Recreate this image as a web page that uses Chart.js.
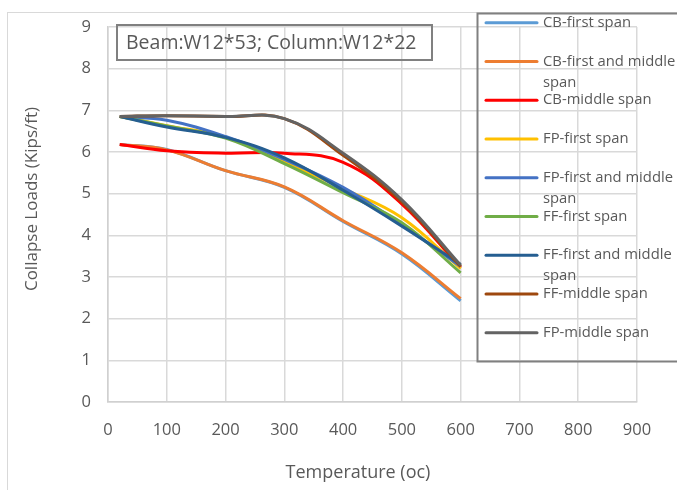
<!DOCTYPE html>
<html lang="en">
<head>
    <meta charset="UTF-8">
    <title>Collapse Loads vs Temperature</title>
    <script src="https://cdn.jsdelivr.net/npm/chart.js"></script>
    <style>
        * { margin: 0; padding: 0; box-sizing: border-box; }
        body { background: #fff; width: 677px; height: 490px; overflow: hidden; }
        #wrap { position: relative; width: 677px; height: 490px; }
    </style>
</head>
<body>
    <div id="wrap"><canvas id="loadChart" width="677" height="490"></canvas></div>
    <script>
        // temperatures (oC) and collapse loads (kips/ft)
        const temps = [20, 100, 200, 300, 400, 500, 600];
        const cbFirst        = [6.18, 6.06, 5.55, 5.15, 4.33, 3.55, 2.43];
        const cbFirstMiddle  = [6.18, 6.05, 5.55, 5.16, 4.35, 3.58, 2.48];
        const cbMiddle       = [6.18, 6.03, 5.97, 5.97, 5.75, 4.75, 3.22];
        const fpFirst        = [6.85, 6.63, 6.35, 5.76, 5.12, 4.42, 3.20];
        const fpFirstMiddle  = [6.85, 6.76, 6.37, 5.82, 5.15, 4.25, 3.25];
        const ffFirst        = [6.85, 6.62, 6.33, 5.72, 5.02, 4.30, 3.10];
        const ffFirstMiddle  = [6.85, 6.60, 6.35, 5.86, 5.08, 4.22, 3.30];
        const ffMiddle       = [6.85, 6.87, 6.85, 6.80, 5.92, 4.80, 3.25];
        const fpMiddle       = [6.85, 6.87, 6.85, 6.80, 5.97, 4.85, 3.28];

        const seriesNames = ['CB-first span', 'CB-first and middle span', 'CB-middle span',
            'FP-first span', 'FP-first and middle span', 'FF-first span',
            'FF-first and middle span', 'FF-middle span', 'FP-middle span'];
        const seriesData = [cbFirst, cbFirstMiddle, cbMiddle, fpFirst, fpFirstMiddle,
            ffFirst, ffFirstMiddle, ffMiddle, fpMiddle];
        const seriesColors = ['#5B9BD5', '#ED7D31', '#FF0000', '#FFC000', '#4472C4',
            '#70AD47', '#255E91', '#9E480E', '#636363'];

        const boxTitle = 'Beam:W12*53; Column:W12*22';
        const xTitle = 'Temperature (oc)';
        const yTitle = 'Collapse Loads (Kips/ft)';

        const FONT = '"Open Sans", sans-serif';
        const TEXT = '#595959';

        // outer frame, title box, legend and axis titles
        const decorations = {
            id: 'decorations',
            beforeDraw(chart) {
                const ctx = chart.ctx;
                ctx.save();
                ctx.strokeStyle = '#d9d9d9';
                ctx.lineWidth = 1;
                ctx.strokeRect(7.5, 12.5, 700, 500);
                ctx.restore();
            },
            afterDraw(chart) {
                const ctx = chart.ctx;
                ctx.save();

                // title box
                ctx.strokeStyle = '#808080';
                ctx.lineWidth = 2;
                ctx.strokeRect(117, 25, 315, 35);
                ctx.fillStyle = TEXT;
                ctx.font = '19.5px ' + FONT;
                ctx.textAlign = 'left';
                ctx.textBaseline = 'middle';
                ctx.fillText(boxTitle, 126, 43);

                // legend
                ctx.strokeRect(477.5, 13.5, 260, 348);
                ctx.font = '14.8px ' + FONT;
                chart.data.datasets.forEach((ds, i) => {
                    const y = 22.7 + i * 38.75;
                    ctx.strokeStyle = ds.borderColor;
                    ctx.lineWidth = 3;
                    ctx.lineCap = 'round';
                    ctx.beginPath();
                    ctx.moveTo(486, y);
                    ctx.lineTo(537, y);
                    ctx.stroke();
                    // wrap long labels
                    const words = ds.label.split(' ');
                    const lines = [];
                    let cur = '';
                    words.forEach(w => {
                        const test = cur ? cur + ' ' + w : w;
                        if (ctx.measureText(test).width > 145 && cur) {
                            lines.push(cur);
                            cur = w;
                        } else {
                            cur = test;
                        }
                    });
                    lines.push(cur);
                    ctx.fillStyle = TEXT;
                    lines.forEach((ln, k) => ctx.fillText(ln, 543, y + k * 21));
                });

                // axis titles
                ctx.font = '18px ' + FONT;
                ctx.textAlign = 'center';
                ctx.fillText(xTitle, 358, 473);
                ctx.translate(32, 199);
                ctx.rotate(-Math.PI / 2);
                ctx.font = '17px ' + FONT;
                ctx.fillText(yTitle, 0, 0);
                ctx.restore();
            }
        };

        const ctx = document.getElementById('loadChart').getContext('2d');
        new Chart(ctx, {
            type: 'line',
            data: {
                datasets: seriesNames.map((name, i) => ({
                    label: name,
                    data: temps.map((t, j) => ({ x: t, y: seriesData[i][j] })),
                    borderColor: seriesColors[i],
                    backgroundColor: seriesColors[i],
                    borderWidth: 3,
                    pointRadius: 0,
                    tension: 0.4,
                    fill: false,
                    order: seriesNames.length - i
                }))
            },
            options: {
                responsive: false,
                animation: false,
                layout: { padding: { left: 0, right: 40, top: 25, bottom: 0 } },
                plugins: {
                    legend: { display: false },
                    tooltip: { enabled: false }
                },
                scales: {
                    x: {
                        type: 'linear',
                        min: 0,
                        max: 900,
                        afterFit(scale) { scale.height = 88; },
                        ticks: {
                            stepSize: 100,
                            padding: 18,
                            color: TEXT,
                            font: { family: FONT, size: 16.5 }
                        },
                        grid: { color: '#d9d9d9', lineWidth: 1.5, drawTicks: false },
                        border: { color: '#d0d0d0', width: 1.5 }
                    },
                    y: {
                        min: 0,
                        max: 9,
                        afterFit(scale) { scale.width = 108; },
                        ticks: {
                            stepSize: 1,
                            padding: 17,
                            color: TEXT,
                            font: { family: FONT, size: 16.5 }
                        },
                        grid: { color: '#d9d9d9', lineWidth: 1.5, drawTicks: false },
                        border: { color: '#d0d0d0', width: 1.5 }
                    }
                }
            },
            plugins: [decorations]
        });
    </script>
</body>
</html>
